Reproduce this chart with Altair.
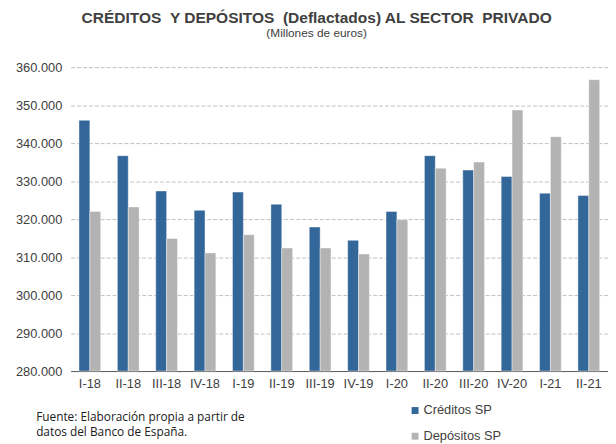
import altair as alt
import pandas as pd

categories = ["I-18", "II-18", "III-18", "IV-18", "I-19", "II-19", "III-19", "IV-19",
              "I-20", "II-20", "III-20", "IV-20", "I-21", "II-21"]
creditos = [346000, 336700, 327400, 322300, 327100, 323900, 317900, 314400,
            322000, 336700, 332900, 331200, 326800, 326200]
depositos = [322000, 323200, 314900, 311100, 315900, 312400, 312400, 310800,
             319800, 333400, 335000, 348700, 341700, 356700]
series_names = ["Créditos SP", "Depósitos SP"]
series_colors = ["#336699", "#B3B3B3"]
y_ticks = [280000, 290000, 300000, 310000, 320000, 330000, 340000, 350000, 360000]

rows = []
for c, a, b in zip(categories, creditos, depositos):
    rows.append({"periodo": c, "serie": series_names[0], "valor": a})
    rows.append({"periodo": c, "serie": series_names[1], "valor": b})
df = pd.DataFrame(rows)

font = "Liberation Sans"
txt = "#404040"
nb = "\u00a0"

chart = alt.Chart(df).mark_bar(
    stroke="#ffffff", strokeWidth=0.6, strokeOpacity=0.7
).encode(
    x=alt.X("periodo:N", sort=categories,
            scale=alt.Scale(paddingInner=0.434, paddingOuter=0.217),
            axis=alt.Axis(
                title=["Fuente: Elaboración propia a partir de", nb + "datos del Banco de España."],
                titleFont="Open Sans", titleFontSize=12, titleFontWeight="normal",
                titleColor="#202020", titleAlign="left", titleAnchor="start",
                titleX=-35.5, titleY=50, titleBaseline="alphabetic", titleLineHeight=15,
                labelAngle=0, labelFont=font, labelFontSize=13, labelColor=txt,
                labelPadding=7, ticks=False, domainColor="#595959", domainWidth=1,
                grid=False)),
    xOffset=alt.XOffset("serie:N", sort=series_names,
                        scale=alt.Scale(paddingInner=0, paddingOuter=0)),
    y=alt.Y("valor:Q",
            scale=alt.Scale(domain=[280000, 360000], zero=False, nice=False, clamp=True),
            axis=alt.Axis(values=y_ticks, title=None, domain=False, ticks=False,
                          labelExpr="replace(format(datum.value, ','), ',', '.')",
                          labelFont=font, labelFontSize=13, labelColor=txt, labelPadding=9,
                          grid=True, gridColor="#BFBFBF", gridDash=[4, 2], gridWidth=1)),
    color=alt.Color("serie:N", sort=series_names,
                    scale=alt.Scale(domain=series_names, range=series_colors),
                    legend=alt.Legend(title=None, orient="none", legendX=342.5, legendY=341.5,
                                      symbolType="square", symbolSize=49,
                                      symbolStrokeWidth=0, labelFont=font, labelFontSize=13,
                                      labelColor=txt, labelOffset=2, rowPadding=12,
                                      padding=0)),
).properties(
    width=544.5,
    height=308,
    padding={"left": 63.5, "top": 57, "right": 0, "bottom": 71},
    autosize=alt.AutoSizeParams(type="none"),
    title=alt.TitleParams(
        text=f"CRÉDITOS {nb}Y DEPÓSITOS {nb}(Deflactados) AL SECTOR {nb}PRIVADO",
        subtitle="(Millones de euros)",
        font=font, fontSize=15.7, fontWeight="bold", color=txt,
        subtitleFont=font, subtitleFontSize=12, subtitleColor=txt,
        anchor="middle", dx=-23, offset=22, subtitlePadding=1),
).configure_view(stroke=None)

chart.save("out.html", embed_options={"renderer": "svg", "actions": False})
